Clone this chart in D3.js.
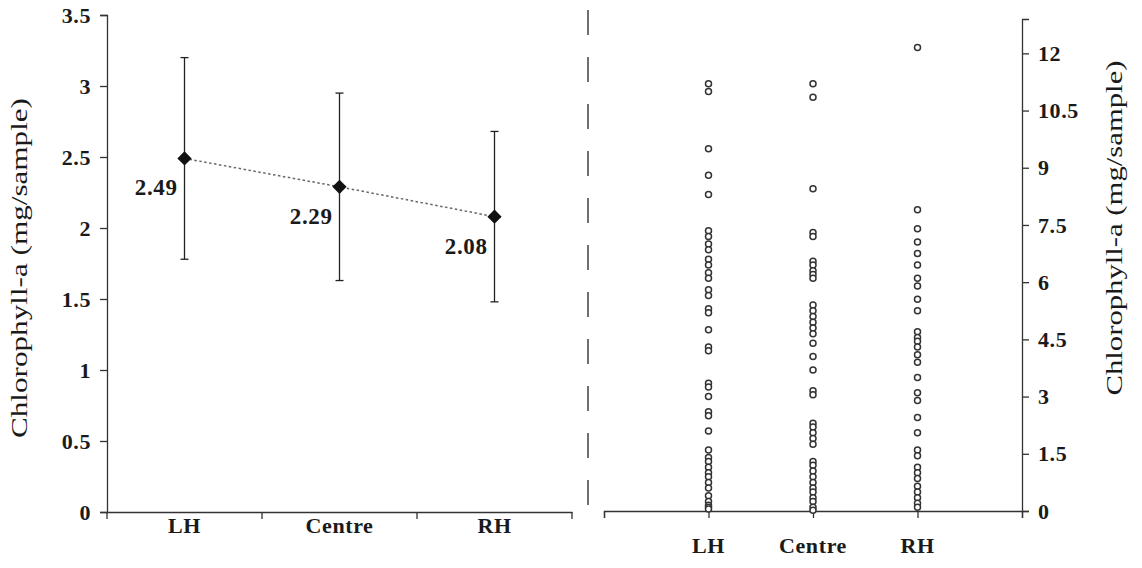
<!DOCTYPE html>
<html>
<head>
<meta charset="utf-8">
<script src="https://cdn.jsdelivr.net/npm/d3@7"></script>
<style>
  body { margin: 0; background: #fff; }
  svg { display: block; }
  .domain, .tick line { stroke: #333; stroke-width: 1.3; }
</style>
</head>
<body>
<div id="chart"></div>
<script>
// left panel: means with error bars
const sites = ['LH', 'Centre', 'RH']
const means = [2.49, 2.29, 2.08]
const sds = [0.71, 0.66, 0.60]
const leftTicks = [0, 0.5, 1, 1.5, 2, 2.5, 3, 3.5]

// right panel: individual samples per site
const lhValues = [11.2, 11.0, 9.5, 8.8, 8.3, 7.35, 7.2, 7.0, 6.85, 6.6, 6.45, 6.25, 6.1, 5.8, 5.65,
  5.3, 5.2, 4.75, 4.3, 4.2, 3.35, 3.25, 3.0, 2.6, 2.5, 2.1, 1.6, 1.4, 1.3, 1.15, 1.0, 0.9,
  0.75, 0.6, 0.4, 0.25, 0.15, 0.1, 0.05]
const centreValues = [11.2, 10.85, 8.45, 7.3, 7.2, 6.55, 6.45, 6.3, 6.2, 6.1, 5.4, 5.25, 5.1, 4.95,
  4.8, 4.65, 4.4, 4.05, 3.7, 3.15, 3.05, 2.3, 2.2, 2.05, 1.9, 1.75, 1.3, 1.2, 1.05, 0.9,
  0.75, 0.6, 0.5, 0.35, 0.25, 0.1, 0.02]
const rhValues = [12.15, 7.9, 7.4, 7.05, 6.75, 6.45, 6.1, 5.9, 5.55, 5.25, 4.7, 4.55, 4.45, 4.3,
  4.1, 3.9, 3.5, 3.1, 2.9, 2.45, 2.05, 1.6, 1.45, 1.15, 1.0, 0.85, 0.65, 0.5, 0.35, 0.2, 0.1]
const rightTicks = [0, 1.5, 3, 4.5, 6, 7.5, 9, 10.5, 12]

const serif = '"Liberation Serif", "DejaVu Serif", serif'
const W = 1142, H = 568
const svg = d3.select('#chart').append('svg')
    .attr('width', W)
    .attr('height', H)
    .style('font-family', serif)

// tick label look, shared by all axes
function styleTicks(g) {
    g.attr('font-family', null).attr('font-size', null)
    g.selectAll('.tick text')
        .style('font-family', serif)
        .style('font-size', '22px')
        .style('font-weight', 'bold')
        .style('letter-spacing', '0.6px')
        .style('fill', '#1a1a1a')
}

// ---- left panel ----
const x = d3.scaleBand().domain(sites).range([107, 572])
const y = d3.scaleLinear().domain([0, 3.5]).range([512, 15])

svg.append('g')
    .attr('transform', 'translate(0,512)')
    .call(d3.axisBottom(x).tickSize(0).tickPadding(5))
    .call(styleTicks)

// band boundary ticks below the axis
svg.append('g')
    .selectAll('line')
    .data(d3.range(sites.length + 1))
    .enter()
    .append('line')
    .attr('x1', i => x.range()[0] + i * x.step())
    .attr('x2', i => x.range()[0] + i * x.step())
    .attr('y1', 512)
    .attr('y2', 519)
    .attr('stroke', '#333')
    .attr('stroke-width', 1.3)

svg.append('g')
    .attr('transform', 'translate(107,0)')
    .call(d3.axisLeft(y).tickValues(leftTicks).tickSize(7).tickPadding(9).tickFormat(d3.format('~g')))
    .call(styleTicks)

const cx = d => x(d) + x.bandwidth() / 2
const pts = sites.map((s, i) => ({site: s, mean: means[i], sd: sds[i]}))

svg.append('path')
    .datum(pts)
    .attr('fill', 'none')
    .attr('stroke', '#666')
    .attr('stroke-width', 1.5)
    .attr('stroke-dasharray', '2.5,2.5')
    .attr('d', d3.line().x(d => cx(d.site)).y(d => y(d.mean)))

const bars = svg.append('g')
    .selectAll('g')
    .data(pts)
    .enter()
    .append('g')

bars.append('line')
    .attr('x1', d => cx(d.site)).attr('x2', d => cx(d.site))
    .attr('y1', d => y(d.mean + d.sd)).attr('y2', d => y(d.mean - d.sd))
    .attr('stroke', '#222').attr('stroke-width', 1.3)

bars.selectAll('.cap')
    .data(d => [d.mean + d.sd, d.mean - d.sd].map(v => ({site: d.site, v})))
    .enter()
    .append('line')
    .attr('x1', d => cx(d.site) - 4).attr('x2', d => cx(d.site) + 4)
    .attr('y1', d => y(d.v)).attr('y2', d => y(d.v))
    .attr('stroke', '#222').attr('stroke-width', 1.3)

bars.append('path')
    .attr('transform', d => `translate(${cx(d.site)},${y(d.mean)})`)
    .attr('d', d3.symbol(d3.symbolDiamond2, 130))
    .attr('fill', '#111')

bars.append('text')
    .attr('x', d => cx(d.site) - 7)
    .attr('y', d => y(d.mean) + 37)
    .attr('text-anchor', 'end')
    .attr('font-size', 23)
    .attr('font-weight', 'bold')
    .attr('letter-spacing', 0.6)
    .attr('fill', '#1a1a1a')
    .text(d => d3.format('.2f')(d.mean))

svg.append('text')
    .attr('transform', 'translate(27,268) rotate(-90)')
    .attr('text-anchor', 'middle')
    .attr('font-size', 23)
    .attr('fill', '#1a1a1a')
    .attr('textLength', 340)
    .attr('lengthAdjust', 'spacingAndGlyphs')
    .text('Chlorophyll-a (mg/sample)')

// divider
svg.append('line')
    .attr('x1', 588).attr('x2', 588)
    .attr('y1', 10).attr('y2', 525)
    .attr('stroke', '#333')
    .attr('stroke-width', 1.4)
    .attr('stroke-dasharray', '25,22')

// ---- right panel ----
const x2 = d3.scaleLinear().domain([0, 4]).range([604, 1022])
const y2 = d3.scaleLinear().domain([0, 12.9]).range([511, 19])

svg.append('g')
    .attr('transform', 'translate(0,511)')
    .call(d3.axisBottom(x2).tickValues([0, 1, 2, 3, 4]).tickSize(7).tickFormat(''))

svg.append('g')
    .selectAll('text')
    .data(sites)
    .enter()
    .append('text')
    .attr('x', (d, i) => x2(i + 1))
    .attr('y', 553)
    .attr('text-anchor', 'middle')
    .attr('font-size', 22)
    .attr('font-weight', 'bold')
    .attr('letter-spacing', 0.6)
    .attr('fill', '#1a1a1a')
    .text(d => d)

svg.append('g')
    .attr('transform', 'translate(1022,0)')
    .call(d3.axisRight(y2).tickValues(rightTicks).tickSize(7).tickPadding(9).tickFormat(d3.format('~g')))
    .call(styleTicks)

const samples = [lhValues, centreValues, rhValues]
samples.forEach((vals, i) => {
    svg.append('g')
        .selectAll('circle')
        .data(vals)
        .enter()
        .append('circle')
        .attr('cx', x2(i + 1))
        .attr('cy', d => y2(d))
        .attr('r', 3)
        .attr('fill', '#fff')
        .attr('stroke', '#333')
        .attr('stroke-width', 1.5)
})

svg.append('text')
    .attr('transform', 'translate(1122,228) rotate(-90)')
    .attr('text-anchor', 'middle')
    .attr('font-size', 23)
    .attr('fill', '#1a1a1a')
    .attr('textLength', 335)
    .attr('lengthAdjust', 'spacingAndGlyphs')
    .text('Chlorophyll-a (mg/sample)')
</script>
</body>
</html>
